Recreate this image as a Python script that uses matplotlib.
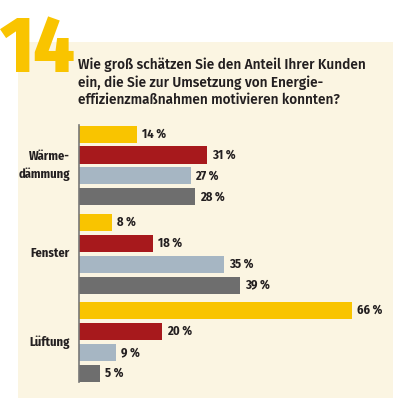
import matplotlib.pyplot as plt
from matplotlib.patches import Rectangle

groups = ['Wärme-\ndämmung', 'Fenster', 'Lüftung']
values = [[14, 31, 27, 28],
          [8, 18, 35, 39],
          [66, 20, 9, 5]]
colors = ['#f9c400', '#a7191c', '#a6b6c3', '#6e6e6e']
number = '14'
question = ('Wie groß schätzen Sie den Anteil Ihrer Kunden\n'
            'ein, die Sie zur Umsetzung von Energie-\n'
            'effizienzmaßnahmen motivieren konnten?')

cond = ['Fira Sans Condensed', 'DejaVu Sans']

fig = plt.figure(figsize=(3.93, 4.0), dpi=100)
fig.patch.set_facecolor('white')

# beige panel
fig.patches.append(Rectangle((18 / 393, 0.005), 1, 1 - 42 / 400 - 0.005,
                             transform=fig.transFigure, facecolor='#fbf5e2',
                             edgecolor='none', zorder=-1))

fig.text(0.0, 1 - 72 / 400, number, color='#f9c400', fontsize=57,
         fontweight='heavy', family=cond, va='baseline', ha='left')
fig.text(78 / 393, 1 - 104 / 400, question, color='#231f20', fontsize=9.8,
         fontweight='semibold', family=['Fira Sans', 'DejaVu Sans'],
         va='baseline', ha='left', linespacing=1.28)

ax = fig.add_axes([79 / 393, 1 - 387 / 400, 314 / 393, 267 / 400])
ax.set_zorder(1)
ax.patch.set_alpha(0)

gap = 4.2
for g, vals in enumerate(values):
    pos = [g * gap + i for i in range(len(vals))]
    ax.barh(pos, vals, height=0.81, color=colors)
    for p, v in zip(pos, vals):
        ax.text(v + 1.2, p, f'{v}\u2009%', va='center', ha='left',
                fontsize=9, fontweight='bold', color='#231f20', family=cond)
    ax.text(-2.2, g * gap + 1.5, groups[g], ha='right', va='center',
            fontsize=9, fontweight='bold', color='#231f20', family=cond,
            linespacing=1.45)

ax.set_xlim(0, 76)
ax.set_ylim(12.05, -0.667)
for s in ['top', 'right', 'bottom']:
    ax.spines[s].set_visible(False)
ax.spines['left'].set_color('#777777')
ax.spines['left'].set_linewidth(1.2)
ax.spines['left'].set_bounds(-0.43, 11.81)
ax.set_xticks([])
ax.set_yticks([])

fig.savefig('out.png', dpi=100)
